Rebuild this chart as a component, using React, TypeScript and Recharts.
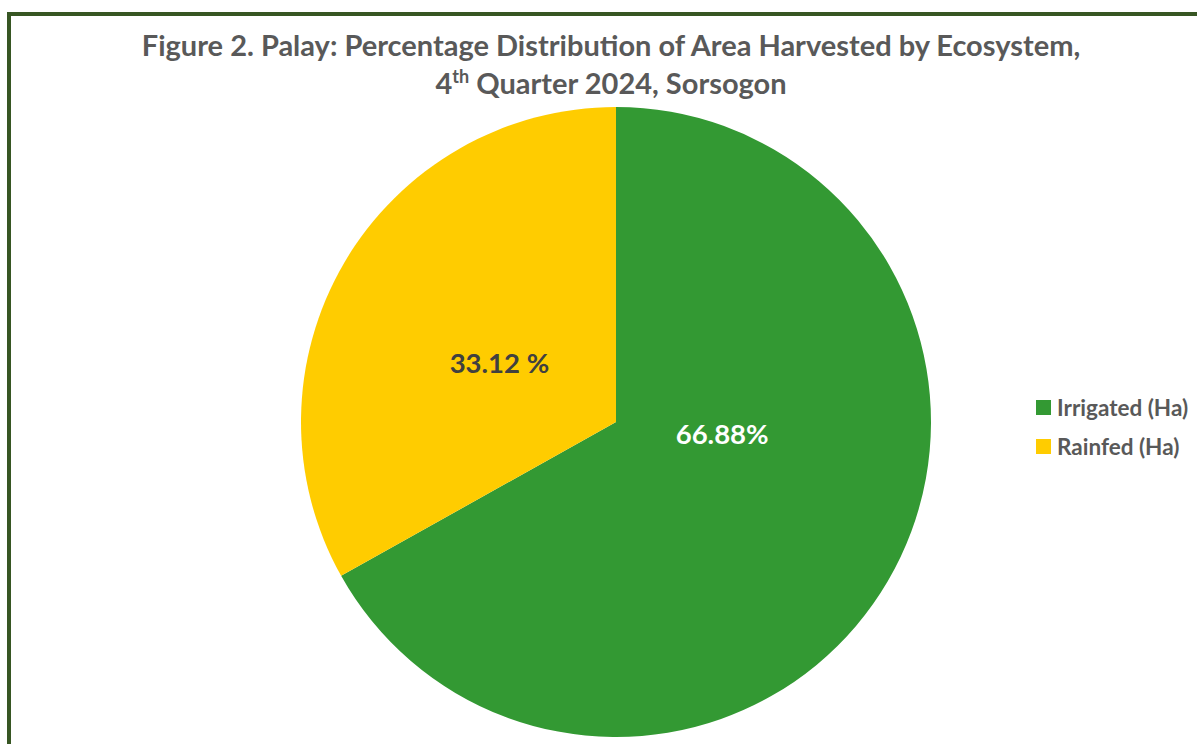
import React from 'react';
import { PieChart, Pie, Cell, Legend } from 'recharts';

const categories = ['Irrigated (Ha)', 'Rainfed (Ha)'];
const shares = [66.88, 33.12];
const labelTexts = ['66.88%', '33.12 %'];
const colors = ['#339933', '#FFCC00'];

const data = categories.map((name, i) => ({ name, value: shares[i] }));

const FONT = 'Lato, "Open Sans", sans-serif';
const CX = 616;
const CY = 422;
const R = 315;

// label placement: offset as a fraction of radius from the centre
const labelOffsets = [
  { fx: 0.337, fy: 0.035, color: '#FFFFFF' },
  { fx: -0.37, fy: -0.19, color: '#404040' },
];

const renderLabel = (props: any) => {
  const { cx, cy, outerRadius, index } = props;
  const o = labelOffsets[index];
  return (
    <text
      x={cx + outerRadius * o.fx}
      y={cy + outerRadius * o.fy}
      fill={o.color}
      textAnchor="middle"
      dominantBaseline="central"
      style={{ fontFamily: FONT, fontWeight: 700, fontSize: 27.5 }}
    >
      {labelTexts[index]}
    </text>
  );
};

const renderLegend = () => (
  <div style={{ fontFamily: FONT, fontWeight: 700, fontSize: 22.5, color: '#595959' }}>
    {categories.map((c, i) => (
      <div key={c} style={{ display: 'flex', alignItems: 'center', height: 39 }}>
        <span style={{ display: 'inline-block', width: 15, height: 15, background: colors[i], marginRight: 6, flexShrink: 0 }} />
        <span style={{ whiteSpace: 'nowrap' }}>{c}</span>
      </div>
    ))}
  </div>
);

export default function App() {
  return (
    <div style={{ position: 'absolute', left: 0, top: 0, width: 1197, height: 744, overflow: 'hidden', background: '#fff' }}>
      <div
        style={{
          position: 'absolute',
          left: 7,
          top: 12,
          width: 1210,
          height: 760,
          border: '4px solid #375623',
          boxSizing: 'border-box',
        }}
      />
      <div
        style={{
          position: 'absolute',
          left: 0,
          top: 26,
          width: 1222,
          textAlign: 'center',
          fontFamily: FONT,
          fontWeight: 700,
          fontSize: 29,
          lineHeight: '38px',
          color: '#595959',
        }}
      >
        <div>Figure 2. Palay: Percentage Distribution of Area Harvested by Ecosystem,</div>
        <div>
          4<sup style={{ fontSize: 18, lineHeight: 0 }}>th</sup> Quarter 2024, Sorsogon
        </div>
      </div>
      <div style={{ position: 'absolute', left: 0, top: 0 }}>
        <PieChart width={1197} height={744} margin={{ top: 0, right: 0, bottom: 0, left: 0 }}>
          <Pie
            data={data}
            dataKey="value"
            nameKey="name"
            cx={CX}
            cy={CY}
            outerRadius={R}
            startAngle={90}
            endAngle={-270}
            stroke="none"
            label={renderLabel}
            labelLine={false}
            isAnimationActive={false}
          >
            {data.map((d, i) => (
              <Cell key={d.name} fill={colors[i]} />
            ))}
          </Pie>
          <Legend
            layout="vertical"
            content={renderLegend}
            wrapperStyle={{ position: 'absolute', left: 1036, top: 388, width: 165 }}
          />
        </PieChart>
      </div>
    </div>
  );
}
